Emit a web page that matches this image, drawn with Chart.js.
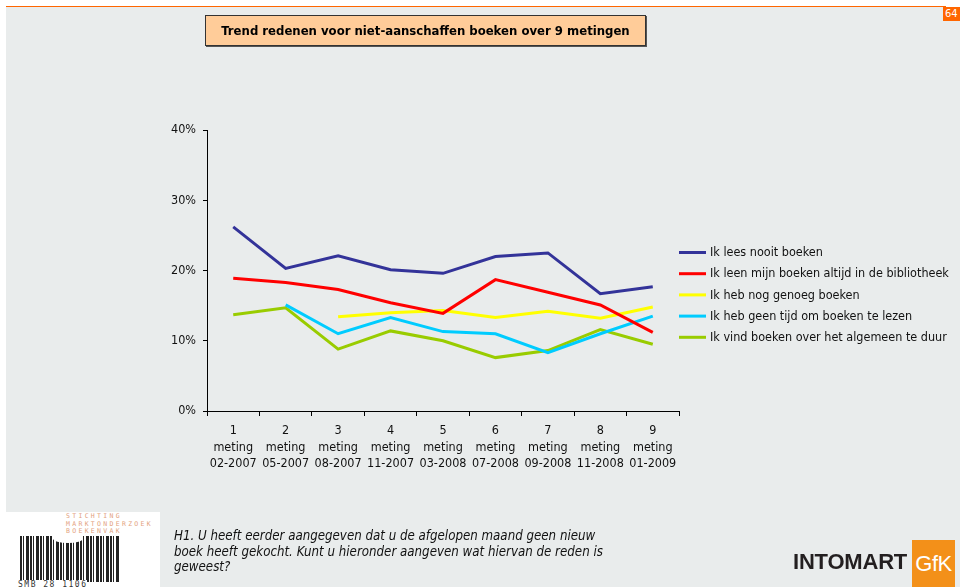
<!DOCTYPE html>
<html>
<head>
<meta charset="utf-8">
<script src="https://cdn.jsdelivr.net/npm/chart.js@4/dist/chart.umd.min.js"></script>
<style>
  html, body { margin: 0; padding: 0; background: #ffffff; }
  #page { position: relative; width: 960px; height: 587px; overflow: hidden; background: #ffffff; }
  #panel { position: absolute; left: 6px; top: 7px; width: 954px; height: 580px; background: #e9ecec; }
  #topline { position: absolute; left: 6px; top: 5.5px; width: 940px; height: 1.5px; background: #ff6600; }
  #pagenr { position: absolute; left: 943px; top: 7px; width: 20px; height: 14px; background: #ff6600;
            color: #fff; font: 11px "DejaVu Sans Condensed", "DejaVu Sans", sans-serif; line-height: 14px; padding-left: 2px; box-sizing: border-box; }
  #chart { position: absolute; left: 0; top: 0; }
  #title { position: absolute; left: 205px; top: 15px; width: 441px; height: 31px; box-sizing: border-box;
           background: #ffcc99; border: 1px solid #333; box-shadow: 1px 1px 0 #555;
           font: bold 13px "DejaVu Sans Condensed", "DejaVu Sans", sans-serif; color: #000;
           display: flex; align-items: center; justify-content: center; white-space: nowrap; }
  #question { position: absolute; left: 174px; top: 528px; white-space: nowrap;
              font: italic 13.2px "DejaVu Sans Condensed", "DejaVu Sans", sans-serif; line-height: 15.5px; color: #111; }
  #smb { position: absolute; left: 6px; top: 512px; width: 154px; height: 75px; background: #fff; overflow: hidden; }
  #bars { position: absolute; left: 14px; top: 24px; width: 100px; height: 46px;
          background: repeating-linear-gradient(90deg, #222 0 2px, #fff 2px 3px, #222 3px 4px, #fff 4px 6px, #222 6px 9px, #fff 9px 10px); }
  #book { position: absolute; left: 47px; top: 22px; width: 30px; height: 9px; background: #fff; border-radius: 0 0 50% 50%; }
  #smbtext { position: absolute; left: 60px; top: 1px; font: 6.5px "DejaVu Sans Mono", monospace; letter-spacing: 2.3px;
             line-height: 7.5px; color: #e3a27e; }
  #smbcode { position: absolute; left: 12px; top: 68px; font: 8px "DejaVu Sans Mono", monospace; letter-spacing: 1.5px; color: #333; background: #fff; }
  #intomart { position: absolute; left: 793px; top: 549px; font: bold 22px "Liberation Sans", Arial, sans-serif; color: #231f20; letter-spacing: -0.2px; }
  #gfk { position: absolute; left: 912px; top: 540px; width: 43px; height: 47px; background: #f39019;
         color: #fff; font: 22px "Liberation Sans", Arial, sans-serif; line-height: 47px; text-align: center; letter-spacing: -0.5px; }
</style>
</head>
<body>
<div id="page">
  <div id="panel"></div>
  <div id="topline"></div>
  <div id="pagenr">64</div>
  <canvas id="chart" width="960" height="587"></canvas>
  <div id="title">Trend redenen voor niet-aanschaffen boeken over 9 metingen</div>
  <div id="smb">
    <div id="bars"></div>
    <div id="book"></div>
    <div id="smbtext">STICHTING<br>MARKTONDERZOEK<br>BOEKENVAK</div>
    <div id="smbcode">SMB 28 1106</div>
  </div>
  <div id="question">H1. U heeft eerder aangegeven dat u de afgelopen maand geen nieuw<br>boek heeft gekocht. Kunt u hieronder aangeven wat hiervan de reden is<br>geweest?</div>
  <div id="intomart">INTOMART</div>
  <div id="gfk">GfK</div>
</div>
<script>
// Measurement rounds
const metingNr = ['1', '2', '3', '4', '5', '6', '7', '8', '9'];
const metingDatum = ['02-2007', '05-2007', '08-2007', '11-2007', '03-2008', '07-2008', '09-2008', '11-2008', '01-2009'];

// Share of respondents (%) per reason, per measurement
const leesNooit      = [26.2, 20.3, 22.1, 20.1, 19.6, 22.0, 22.5, 16.7, 17.7];
const bibliotheek    = [18.9, 18.3, 17.3, 15.4, 13.9, 18.7, 16.9, 15.1, 11.2];
const genoegBoeken   = [null, null, 13.4, 14.0, 14.3, 13.3, 14.2, 13.2, 14.8];
const geenTijd       = [null, 15.1, 11.0, 13.3, 11.3, 11.0, 8.3, 11.0, 13.5];
const teDuur         = [13.7, 14.7, 8.8, 11.4, 10.0, 7.6, 8.6, 11.6, 9.5];

const seriesLabels = [
  'Ik lees nooit boeken',
  'Ik leen mijn boeken altijd in de bibliotheek',
  'Ik heb nog genoeg boeken',
  'Ik heb geen tijd om boeken te lezen',
  'Ik vind boeken over het algemeen te duur'
];
const seriesValues = [leesNooit, bibliotheek, genoegBoeken, geenTijd, teDuur];
const seriesColors = ['#333399', '#ff0000', '#ffff00', '#00ccff', '#99cc00'];

const yTicks = [0, 10, 20, 30, 40];

const labels = metingNr.map((n, i) => [n, 'meting', metingDatum[i]]);
const FONT = '"DejaVu Sans Condensed", "DejaVu Sans", sans-serif';

// Legend drawn to the right of the plot, one row per series
const sideLegend = {
  id: 'sideLegend',
  afterDraw(chart) {
    const ctx = chart.ctx;
    const x0 = chart.chartArea.right;
    ctx.save();
    ctx.font = '12.5px ' + FONT;
    ctx.textBaseline = 'middle';
    chart.data.datasets.forEach((ds, i) => {
      const y = 252.5 + i * 21.2;
      ctx.strokeStyle = ds.borderColor;
      ctx.lineWidth = 3;
      ctx.beginPath();
      ctx.moveTo(x0, y);
      ctx.lineTo(x0 + 27, y);
      ctx.stroke();
      ctx.fillStyle = '#111';
      ctx.fillText(ds.label, x0 + 31, y + 0.5);
    });
    ctx.restore();
  }
};

new Chart(document.getElementById('chart'), {
  type: 'line',
  data: {
    labels: labels,
    datasets: seriesLabels.map((label, i) => ({
      label: label,
      data: seriesValues[i],
      borderColor: seriesColors[i],
      backgroundColor: seriesColors[i],
      borderWidth: 3,
      pointRadius: 0,
      tension: 0,
      fill: false
    }))
  },
  options: {
    responsive: false,
    animation: false,
    devicePixelRatio: 1,
    layout: { padding: { left: 0, top: 130, right: 281, bottom: 0 } },
    plugins: {
      legend: { display: false },
      tooltip: { enabled: false }
    },
    scales: {
      x: {
        offset: true,
        grid: { offset: true, drawOnChartArea: false, drawTicks: true, tickLength: 5, color: '#000', lineWidth: 1 },
        border: { display: true, color: '#000', width: 1 },
        ticks: { color: '#111', font: { family: FONT, size: 12.5, lineHeight: 1.3 }, padding: 7, maxRotation: 0, autoSkip: false },
        afterFit(scale) { scale.height = 176; }
      },
      y: {
        min: 0,
        max: 40,
        afterBuildTicks(scale) { scale.ticks = yTicks.map(v => ({ value: v })); },
        grid: { drawOnChartArea: false, drawTicks: true, tickLength: 4, color: '#000', lineWidth: 1 },
        border: { display: true, color: '#000', width: 1 },
        ticks: { color: '#111', font: { family: FONT, size: 12.5 }, padding: 7, callback: v => v + '%' },
        afterFit(scale) { scale.width = 207; }
      }
    }
  },
  plugins: [sideLegend]
});
</script>
</body>
</html>
